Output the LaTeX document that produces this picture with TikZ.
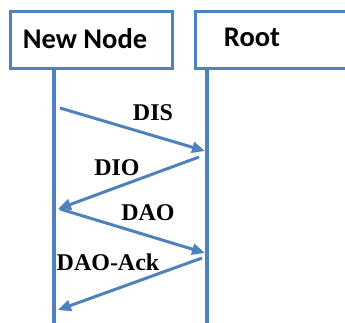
\documentclass[tikz,border=0pt]{standalone}
\usepackage{fontspec}
\setmainfont{Liberation Serif}
\newfontfamily\headfont{Carlito}
\usetikzlibrary{arrows.meta}
\definecolor{lineblue}{RGB}{79,129,189}
\begin{document}
\begin{tikzpicture}[x=1pt,y=1pt,
  headbox/.style={draw=lineblue,line width=3pt,fill=white,minimum height=57pt,inner sep=0pt},
  headtext/.style={font=\headfont\bfseries\fontsize{28.5}{32}\selectfont,inner sep=0pt},
  lifeline/.style={draw=lineblue,line width=4pt},
  msg/.style={draw=lineblue,line width=3pt,-{Triangle[length=13pt,width=11pt]}},
  msglabel/.style={font=\bfseries\fontsize{24}{28}\selectfont,inner sep=0pt}]
\useasboundingbox (0,0) rectangle (345,322);
\begin{scope}
\clip (0,0) rectangle (345,322);
% participant boxes
\node[headbox,minimum width=162pt] (newbox) at (91,281.5) {};
\node[headbox,minimum width=170pt] (rootbox) at (280,281.5) {};
\node[headtext] (newtxt) at (85,283) {New Node};
\node[headtext] (roottxt) at (252,285) {Root};
% lifelines
\coordinate (newtop) at (54,253);
\coordinate (newend) at (54,-2);
\coordinate (roottop) at (207,253);
\coordinate (rootend) at (207,-2);
\draw[lifeline] (newtop) -- (newend);
\draw[lifeline] (roottop) -- (rootend);
% message end points
\coordinate (disA) at (60,214);
\coordinate (disB) at (205,171);
\coordinate (dioA) at (199,165);
\coordinate (dioB) at (58,113);
\coordinate (daoA) at (60,113);
\coordinate (daoB) at (205,69);
\coordinate (ackA) at (202,64);
\coordinate (ackB) at (58,12);
% messages
\draw[msg] (disA) -- (disB);
\draw[msg] (dioA) -- (dioB);
\draw[msg] (daoA) -- (daoB);
\draw[msg] (ackA) -- (ackB);
\node[msglabel] (dis) at (153,209) {DIS};
\node[msglabel] (dio) at (117,154) {DIO};
\node[msglabel] (dao) at (148,109) {DAO};
\node[msglabel] (ack) at (108,60) {DAO-Ack};
\end{scope}
\end{tikzpicture}
\end{document}
